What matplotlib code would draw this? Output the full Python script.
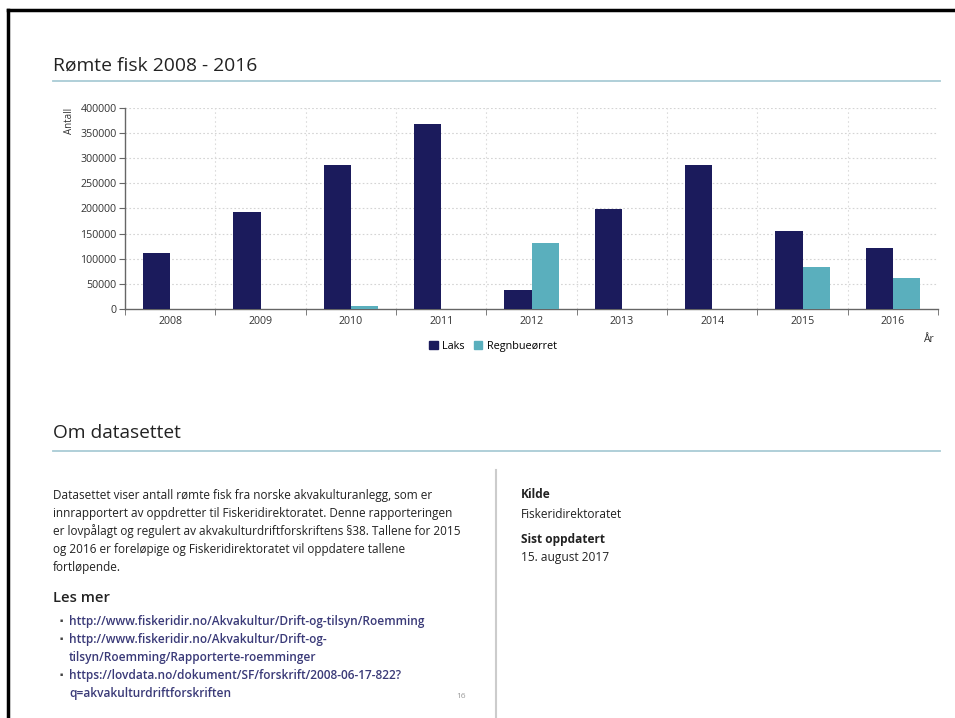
import matplotlib
matplotlib.use("Agg")
import matplotlib.pyplot as plt
import numpy as np
from matplotlib.lines import Line2D
from matplotlib.patches import Patch

plt.rcParams['font.family'] = ['Open Sans', 'DejaVu Sans']

years = ['2008', '2009', '2010', '2011', '2012', '2013', '2014', '2015', '2016']
laks = [112000, 193000, 286000, 368000, 38000, 199000, 286000, 156000, 121000]
regnbue = [0, 0, 6000, 0, 132000, 0, 0, 84000, 62000]
yticks = [0, 50000, 100000, 150000, 200000, 250000, 300000, 350000, 400000]

col_laks = '#1b1b5c'
col_regn = '#5aafbd'
rule_col = '#a9ccd5'
text_col = '#222222'
link_col = '#3a3a78'

W, H = 955, 718
fig = plt.figure(figsize=(W / 100, H / 100), dpi=100)

def fx(px):
    return px / W

def fy(py):
    return 1 - py / H

ax = fig.add_axes([fx(125), fy(309), fx(938) - fx(125), fy(108) - fy(309)])
x = np.arange(len(years))
bw = 0.3
ax.bar(x - bw / 2, laks, bw, color=col_laks, label='Laks', zorder=3)
ax.bar(x + bw / 2, regnbue, bw, color=col_regn, label='Regnbueørret', zorder=3)
ax.set_xlim(-0.5, len(years) - 0.5)
ax.set_ylim(0, 400000)
ax.set_yticks(yticks)
ax.set_yticklabels([str(v) for v in yticks], fontsize=7.7, color='#333333')
ax.set_xticks(x)
ax.set_xticklabels(years, fontsize=7.7, color='#333333')
ax.tick_params(axis='x', which='major', length=0, pad=5)
ax.set_xticks(np.arange(-0.5, len(years), 1), minor=True)
ax.tick_params(axis='x', which='minor', length=4, color='#666666')
ax.tick_params(axis='y', length=4, color='#666666', pad=2)
for s in ['top', 'right']:
    ax.spines[s].set_visible(False)
for s in ['left', 'bottom']:
    ax.spines[s].set_color('#666666')
    ax.spines[s].set_linewidth(1.0)
for v in yticks[1:]:
    ax.axhline(v, color='#d4d4d4', lw=0.8, ls=(0, (1.5, 2)), zorder=1)
for b in np.arange(0.5, len(years) - 1, 1):
    ax.axvline(b, color='#dcdcdc', lw=0.8, ls=(0, (1.5, 2.5)), zorder=1)

fig.text(fx(70), fy(108), 'Antall', rotation=90, ha='center', va='top', fontsize=7, color='#333333')
fig.text(fx(928), fy(340), 'År', ha='center', va='center', fontsize=7.5, color='#333333')

handles = [Patch(color=col_laks, label='Laks'), Patch(color=col_regn, label='Regnbueørret')]
fig.legend(handles=handles, loc='center', bbox_to_anchor=(fx(493), fy(346)), ncol=2, frameon=False,
           fontsize=7.8, handlelength=0.8, handleheight=0.8, handletextpad=0.4, columnspacing=0.8)

# Page frame
fig.add_artist(Line2D([fx(8), fx(955)], [fy(10), fy(10)], color='black', lw=2.5))
fig.add_artist(Line2D([fx(8), fx(8)], [fy(10), fy(718)], color='black', lw=2.5))

# Headings
fig.text(fx(53), fy(66), 'Rømte fisk 2008 - 2016', fontsize=13.9, color=text_col, va='center')
fig.add_artist(Line2D([fx(53), fx(940)], [fy(81), fy(81)], color=rule_col, lw=1.3))
fig.text(fx(53), fy(433), 'Om datasettet', fontsize=13.8, color=text_col, va='center')
fig.add_artist(Line2D([fx(53), fx(940)], [fy(451), fy(451)], color=rule_col, lw=1.3))

body = ['Datasettet viser antall rømte fisk fra norske akvakulturanlegg, som er',
        'innrapportert av oppdretter til Fiskeridirektoratet. Denne rapporteringen',
        'er lovpålagt og regulert av akvakulturdriftforskriftens §38. Tallene for 2015',
        'og 2016 er foreløpige og Fiskeridirektoratet vil oppdatere tallene',
        'fortløpende.']
for i, line in enumerate(body):
    fig.text(fx(53), fy(495 + i * 18.2), line, fontsize=8.5, color=text_col, va='center')

fig.text(fx(53), fy(598), 'Les mer', fontsize=10.6, color=text_col, va='center', weight='semibold')

links = [(621, True, 'http://www.fiskeridir.no/Akvakultur/Drift-og-tilsyn/Roemming'),
         (639, True, 'http://www.fiskeridir.no/Akvakultur/Drift-og-'),
         (657, False, 'tilsyn/Roemming/Rapporterte-roemminger'),
         (675, True, 'https://lovdata.no/dokument/SF/forskrift/2008-06-17-822?'),
         (693, False, 'q=akvakulturdriftforskriften')]
for py, bullet, t in links:
    if bullet:
        fig.text(fx(61), fy(py), '▪', fontsize=3.5, color='#444444', va='center', ha='center')
    fig.text(fx(69), fy(py), t, fontsize=8.6, color=link_col, va='center', weight='semibold')

fig.text(fx(461), fy(697), '16', fontsize=6, color='#999999', va='center', ha='center')

fig.add_artist(Line2D([fx(496), fx(496)], [fy(470), fy(718)], color='#cccccc', lw=1.5))

fig.text(fx(521), fy(495), 'Kilde', fontsize=8.6, color=text_col, va='center', weight='bold')
fig.text(fx(521), fy(514), 'Fiskeridirektoratet', fontsize=8.6, color=text_col, va='center')
fig.text(fx(521), fy(539), 'Sist oppdatert', fontsize=8.6, color=text_col, va='center', weight='bold')
fig.text(fx(521), fy(557), '15. august 2017', fontsize=8.6, color=text_col, va='center')

fig.savefig('out.png', dpi=100, facecolor='white')
